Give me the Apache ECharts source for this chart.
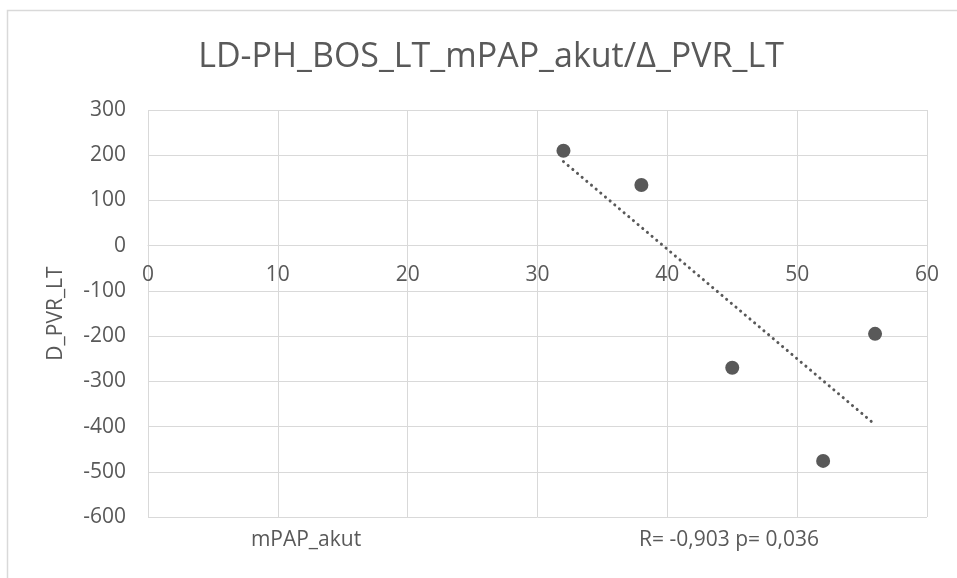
<!DOCTYPE html>
<html>
<head>
<meta charset="utf-8">
<script src="https://cdn.jsdelivr.net/npm/echarts@6/dist/echarts.min.js"></script>
<style>
  html, body { margin: 0; padding: 0; background: #fff; }
  #chart { width: 957px; height: 578px; }
</style>
</head>
<body>
<div id="chart"></div>
<script>
// mPAP_akut vs Δ PVR_LT
const mpapAkut = [32, 38, 45, 52, 56];
const deltaPvr = [210, 134, -270, -476, -195];
const xTicks = [0, 10, 20, 30, 40, 50, 60];
const yTicks = [-600, -500, -400, -300, -200, -100, 0, 100, 200, 300];

const GRAY = "#595959";
const GRID = "#d9d9d9";
const FONT = "Open Sans";

// linear trend line (least squares) from the points above
const n = mpapAkut.length;
const mx = mpapAkut.reduce((a, b) => a + b, 0) / n;
const my = deltaPvr.reduce((a, b) => a + b, 0) / n;
let sxy = 0, sxx = 0;
for (let i = 0; i < n; i++) {
  sxy += (mpapAkut[i] - mx) * (deltaPvr[i] - my);
  sxx += (mpapAkut[i] - mx) ** 2;
}
const slope = sxy / sxx;
const x0 = Math.min(...mpapAkut), x1 = Math.max(...mpapAkut);
const trend = [[x0, my + slope * (x0 - mx)], [x1, my + slope * (x1 - mx)]];

// plot box
const gridTop = 110, gridBottom = 61, chartH = 578;
const plotH = chartH - gridTop - gridBottom;
const yMin = yTicks[0], yMax = yTicks[yTicks.length - 1];
// x axis sits on y = 0 (like the excel chart), so shift it up from the bottom
const xAxisOffset = -plotH * (0 - yMin) / (yMax - yMin);

const chart = echarts.init(document.getElementById("chart"));

chart.setOption({
  animation: false,
  backgroundColor: "#fff",
  title: {
    text: "LD-PH_BOS_LT_mPAP_akut/Δ_PVR_LT",
    left: 486,
    top: 35,
    textAlign: "center",
    textStyle: { fontFamily: FONT, fontSize: 34, fontWeight: "normal", color: GRAY },
  },
  grid: { left: 148, top: gridTop, right: 30, bottom: gridBottom },
  xAxis: {
    type: "value",
    min: xTicks[0],
    max: xTicks[xTicks.length - 1],
    interval: 10,
    offset: xAxisOffset,
    axisLine: { show: true, onZero: false, lineStyle: { color: GRID, width: 1 } },
    axisTick: { show: false },
    axisLabel: { margin: 19, fontFamily: FONT, fontSize: 21, color: GRAY },
    splitLine: { show: true, lineStyle: { color: GRID, width: 1 } },
  },
  yAxis: {
    type: "value",
    min: yMin,
    max: yMax,
    interval: 100,
    name: "D_PVR_LT",
    nameLocation: "middle",
    nameGap: 81,
    nameMoveOverlap: false,
    nameRotate: 90,
    nameTextStyle: { fontFamily: FONT, fontSize: 21, color: GRAY },
    axisLine: { show: false, onZero: false },
    axisTick: { show: false },
    axisLabel: { margin: 22, fontFamily: FONT, fontSize: 21, color: GRAY },
    splitLine: { show: true, lineStyle: { color: GRID, width: 1 } },
  },
  graphic: [
    {
      type: "rect",
      silent: true,
      shape: { x: 7.5, y: 10.5, width: 1200, height: 1200 },
      style: { fill: "none", stroke: GRID, lineWidth: 1.5 },
    },
    {
      type: "text",
      x: 306, y: 540,
      style: { text: "mPAP_akut", fontFamily: FONT, fontSize: 21, fill: GRAY, align: "center", verticalAlign: "middle" },
    },
    {
      type: "text",
      x: 729, y: 540,
      style: { text: "R= -0,903 p= 0,036", fontFamily: FONT, fontSize: 21, fill: GRAY, align: "center", verticalAlign: "middle" },
    },
  ],
  series: [
    {
      name: "Trend",
      type: "line",
      data: trend,
      symbol: "none",
      lineStyle: { color: GRAY, width: 3, type: [0.1, 6], cap: "round" },
      z: 2,
    },
    {
      name: "D_PVR_LT",
      type: "scatter",
      data: mpapAkut.map((x, i) => [x, deltaPvr[i]]),
      symbolSize: 14,
      itemStyle: { color: GRAY, opacity: 1 },
      z: 3,
    },
  ],
});
</script>
</body>
</html>
